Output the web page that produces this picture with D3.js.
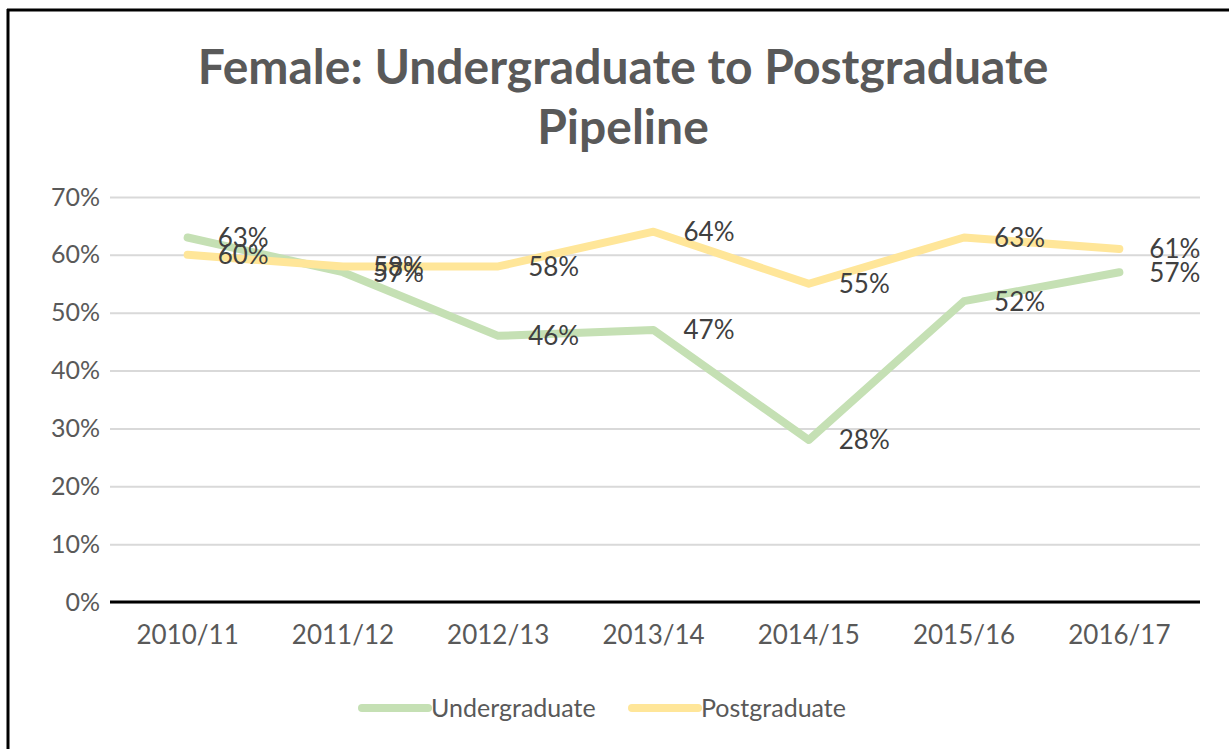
<!DOCTYPE html>
<html>
<head>
<meta charset="utf-8">
<script src="https://cdn.jsdelivr.net/npm/d3@7"></script>
<style>
  body { margin: 0; background: #fff; }
  svg { display: block; font-family: Lato, "Liberation Sans", sans-serif; }
</style>
</head>
<body>
<div id="chart"></div>
<script>
// chart data
const years = ['2010/11', '2011/12', '2012/13', '2013/14', '2014/15', '2015/16', '2016/17'];
const undergraduate = [0.63, 0.57, 0.46, 0.47, 0.28, 0.52, 0.57];
const postgraduate = [0.60, 0.58, 0.58, 0.64, 0.55, 0.63, 0.61];
const yTicks = [0, 0.1, 0.2, 0.3, 0.4, 0.5, 0.6, 0.7];
const titleLines = ['Female: Undergraduate to Postgraduate', 'Pipeline'];

const width = 1229, height = 749;
const margin = { top: 197, right: 29, bottom: 147, left: 110 };

const series = [
    { name: 'Undergraduate', values: undergraduate, color: '#c5e0b4' },
    { name: 'Postgraduate', values: postgraduate, color: '#ffe699' }
];

const svg = d3.select('#chart').append('svg')
    .attr('width', width)
    .attr('height', height);

svg.append('rect').attr('width', width).attr('height', height).attr('fill', '#fff');

// outer frame (only top and left visible in the crop)
svg.append('line').attr('x1', 7).attr('x2', width).attr('y1', 10).attr('y2', 10)
    .attr('stroke', '#000').attr('stroke-width', 3);
svg.append('line').attr('x1', 8).attr('x2', 8).attr('y1', 9).attr('y2', height)
    .attr('stroke', '#000').attr('stroke-width', 3);

// title
svg.append('text')
    .attr('text-anchor', 'middle')
    .attr('fill', '#595959')
    .attr('font-weight', 'bold')
    .attr('font-size', 48)
    .selectAll('tspan')
    .data(titleLines)
    .join('tspan')
    .attr('x', 623)
    .attr('y', (d, i) => 84 + i * 60)
    .text(d => d);

const x = d3.scaleBand()
    .domain(years)
    .range([margin.left, width - margin.right - 3]);

const cx = d => x(d) + x.bandwidth() / 2;

const y = d3.scaleLinear()
    .domain([0, 0.7])
    .range([height - margin.bottom, margin.top]);

// gridlines
const yAxis = d3.axisLeft(y)
    .tickValues(yTicks)
    .tickSize(-(width - margin.left - margin.right))
    .tickPadding(10)
    .tickFormat(d3.format('.0%'));

const gy = svg.append('g')
    .attr('transform', 'translate(' + margin.left + ',0)')
    .call(yAxis);
gy.select('.domain').remove();
gy.selectAll('.tick line').attr('stroke', '#d9d9d9').attr('stroke-width', 2);
gy.selectAll('.tick text').attr('fill', '#595959').attr('font-size', 25)
    .attr('font-family', 'Lato, sans-serif');

// x axis
const xAxis = d3.axisBottom(x).tickSize(0).tickPadding(24);
const gx = svg.append('g')
    .attr('transform', 'translate(0,' + y(0) + ')')
    .call(xAxis);
gx.select('.domain').remove();
gx.append('line')
    .attr('x1', margin.left).attr('x2', width - margin.right)
    .attr('stroke', '#000').attr('stroke-width', 3);
gx.selectAll('.tick text').attr('fill', '#595959').attr('font-size', 26)
    .attr('font-family', 'Lato, sans-serif');

// lines
const line = d3.line()
    .x((d, i) => cx(years[i]))
    .y(d => y(d));

svg.selectAll('path.series')
    .data(series)
    .join('path')
    .attr('class', 'series')
    .attr('d', d => line(d.values))
    .attr('fill', 'none')
    .attr('stroke', d => d.color)
    .attr('stroke-width', 8)
    .attr('stroke-linecap', 'round')
    .attr('stroke-linejoin', 'round');

// data labels, placed to the right of each point
series.forEach(s => {
    svg.append('g')
        .selectAll('text')
        .data(s.values)
        .join('text')
        .attr('x', (d, i) => cx(years[i]) + 30)
        .attr('y', d => y(d))
        .attr('dy', '0.36em')
        .attr('fill', '#404040')
        .attr('font-size', 26)
        .text(d => d3.format('.0%')(d));
});

// legend
const legend = svg.append('g').attr('transform', 'translate(362,708)');
const items = legend.selectAll('g')
    .data(series)
    .join('g')
    .attr('transform', (d, i) => 'translate(' + (i * 270) + ',0)');
items.append('line')
    .attr('x1', 0).attr('x2', 66)
    .attr('stroke', d => d.color)
    .attr('stroke-width', 8)
    .attr('stroke-linecap', 'round');
items.append('text')
    .attr('x', 69)
    .attr('dy', '0.36em')
    .attr('fill', '#595959')
    .attr('font-size', 25)
    .text(d => d.name);
</script>
</body>
</html>
